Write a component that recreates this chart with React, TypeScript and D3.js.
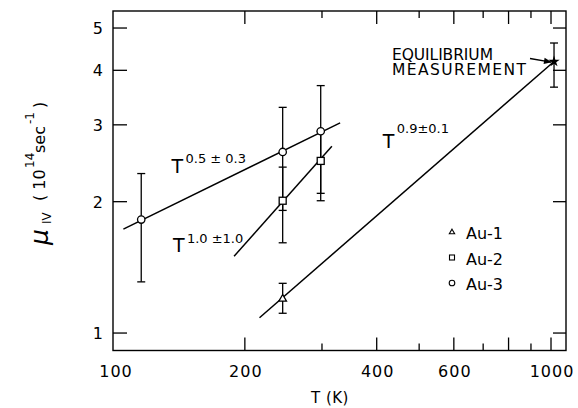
import React from "react";
import * as d3 from "d3";

// ---- data ----
const xTickMajor = [200, 400, 600, 800, 1000];
const xTickMinor = [300, 500, 700, 900];
const xTickLabels = [100, 200, 400, 600, 1000];
const yTicks = [1, 2, 3, 4, 5];

const au1T = [244];
const au1Mu = [1.2];
const au1Hi = [1.3];
const au1Lo = [1.11];

const au2T = [244, 298];
const au2Mu = [2.01, 2.48];
const au2Hi = [2.4, 2.9];
const au2Lo = [1.61, 2.01];

const au3T = [116, 244, 298];
const au3Mu = [1.82, 2.6, 2.9];
const au3Hi = [2.32, 3.29, 3.69];
const au3Lo = [1.31, 1.91, 2.09];

const eqT = [1016];
const eqMu = [4.19];
const eqHi = [4.62];
const eqLo = [3.66];

const fit3T = [105.6, 330];
const fit3Mu = [1.73, 3.03];
const fit2T = [189, 316];
const fit2Mu = [1.5, 2.68];
const fit1T = [216, 1016];
const fit1Mu = [1.084, 4.19];

const legendNames = ["Au-1", "Au-2", "Au-3"];
const powerBase = ["T", "T", "T"];
const powerExp = ["0.5 ± 0.3", "1.0 ±1.0", "0.9±0.1"];
// annotation anchors in data coordinates
const annT = [136, 137, 413];
const annMu = [2.33, 1.534, 2.657];

const xDomain = [100, 1082];
const yDomain = [0.912, 5.47];

const W = 578;
const H = 408;
const FONT = "'DejaVu Sans', 'Liberation Sans', sans-serif";

export default function App() {
  const x = d3.scaleLog().domain(xDomain).range([113, 566]);
  const y = d3.scaleLog().domain(yDomain).range([350.5, 11]);
  const [x0, x1] = x.range();
  const [y0, y1] = y.range();
  const line = d3
    .line<[number, number]>()
    .x((d) => x(d[0]))
    .y((d) => y(d[1]));

  const pairs = (ts: number[], ms: number[]) =>
    ts.map((t, i) => [t, ms[i]] as [number, number]);

  const errBars = (ts: number[], hi: number[], lo: number[], key: string) =>
    ts.map((t, i) => {
      const cx = x(t);
      return (
        <g key={key + i} stroke="#000" strokeWidth={1.3}>
          <line x1={cx} x2={cx} y1={y(hi[i])} y2={y(lo[i])} />
          <line x1={cx - 4} x2={cx + 4} y1={y(hi[i])} y2={y(hi[i])} />
          <line x1={cx - 4} x2={cx + 4} y1={y(lo[i])} y2={y(lo[i])} />
        </g>
      );
    });

  const tri = (cx: number, cy: number, s: number) =>
    `M${cx},${cy - s}L${cx + s * 0.95},${cy + s * 0.65}L${cx - s * 0.95},${cy + s * 0.65}Z`;

  const starPath = d3.symbol().type(d3.symbolStar).size(40)() as string;
  const supDy = [-10, -9, -15];

  return (
    <svg
      width={W}
      height={H}
      style={{ position: "absolute", left: 0, top: 0, background: "#fff" }}
      fontFamily={FONT}
    >
      <rect x={0} y={0} width={W} height={H} fill="#fff" />
      {/* frame */}
      <rect
        x={x0}
        y={y1}
        width={x1 - x0}
        height={y0 - y1}
        fill="none"
        stroke="#000"
        strokeWidth={1.4}
      />
      {/* x ticks */}
      {xTickMajor.map((t) => (
        <g key={"xM" + t} stroke="#000" strokeWidth={1.3}>
          <line x1={x(t)} x2={x(t)} y1={y0} y2={y0 - 13} />
          <line x1={x(t)} x2={x(t)} y1={y1} y2={y1 + 13} />
        </g>
      ))}
      {xTickMinor.map((t) => (
        <g key={"xm" + t} stroke="#000" strokeWidth={1.3}>
          <line x1={x(t)} x2={x(t)} y1={y0} y2={y0 - 7} />
          <line x1={x(t)} x2={x(t)} y1={y1} y2={y1 + 7} />
        </g>
      ))}
      {yTicks.map((t) => (
        <g key={"y" + t} stroke="#000" strokeWidth={1.3}>
          <line x1={x0} x2={x0 + 14} y1={y(t)} y2={y(t)} />
          <line x1={x1} x2={x1 - 13} y1={y(t)} y2={y(t)} />
        </g>
      ))}
      {xTickLabels.map((t) => (
        <text
          key={"xl" + t}
          x={x(t) + (t === 100 ? 3 : 1)}
          y={377}
          fontSize={16}
          textAnchor="middle"
          letterSpacing={1}
        >
          {t}
        </text>
      ))}
      {yTicks.map((t) => (
        <text key={"yl" + t} x={103} y={y(t) + 6} fontSize={16} textAnchor="end">
          {t}
        </text>
      ))}
      <text x={330} y={403} fontSize={15} textAnchor="middle" letterSpacing={0.5}>
        T (K)
      </text>
      {/* y axis label */}
      <g transform="translate(48,245) rotate(-90)">
        <text x={0} y={0} fontSize={25} fontStyle="italic">
          μ
        </text>
        <text x={21} y={3} fontSize={12}>
          IV
        </text>
        <text x={44} y={-3} fontSize={16}>
          ( 10
        </text>
        <text x={77} y={-14} fontSize={12}>
          14
        </text>
        <text x={92} y={-3} fontSize={16}>
          sec
        </text>
        <text x={121} y={-14} fontSize={12}>
          -1
        </text>
        <text x={137} y={-3} fontSize={16}>
          )
        </text>
      </g>

      {/* fit lines */}
      <path d={line(pairs(fit3T, fit3Mu)) as string} stroke="#000" strokeWidth={1.5} fill="none" />
      <path d={line(pairs(fit2T, fit2Mu)) as string} stroke="#000" strokeWidth={1.5} fill="none" />
      <path d={line(pairs(fit1T, fit1Mu)) as string} stroke="#000" strokeWidth={1.5} fill="none" />

      {/* error bars */}
      {errBars(au3T, au3Hi, au3Lo, "e3")}
      {errBars(au2T, au2Hi, au2Lo, "e2")}
      {errBars(au1T, au1Hi, au1Lo, "e1")}
      {errBars(eqT, eqHi, eqLo, "eq")}

      {/* markers */}
      {au2T.map((t, i) => (
        <rect
          key={"s" + i}
          x={x(t) - 3.5}
          y={y(au2Mu[i]) - 3.5}
          width={7}
          height={7}
          fill="#fff"
          stroke="#000"
          strokeWidth={1.3}
        />
      ))}
      {au3T.map((t, i) => (
        <circle
          key={"c" + i}
          cx={x(t)}
          cy={y(au3Mu[i])}
          r={3.7}
          fill="#fff"
          stroke="#000"
          strokeWidth={1.3}
        />
      ))}
      {au1T.map((t, i) => (
        <path key={"t" + i} d={tri(x(t), y(au1Mu[i]), 4)} fill="#fff" stroke="#000" strokeWidth={1.3} />
      ))}
      {eqT.map((t, i) => (
        <path key={"st" + i} d={starPath} transform={`translate(${x(t)},${y(eqMu[i])})`} fill="#000" />
      ))}

      {/* power law labels */}
      {annT.map((t, i) => (
        <g key={"ann" + i}>
          <text x={x(t)} y={y(annMu[i])} fontSize={19}>
            {powerBase[i]}
          </text>
          <text x={x(t) + 14} y={y(annMu[i]) + supDy[i]} fontSize={13}>
            {powerExp[i]}
          </text>
        </g>
      ))}

      {/* equilibrium annotation */}
      <text x={392} y={60} fontSize={15.5} textLength={101} lengthAdjust="spacing">
        EQUILIBRIUM
      </text>
      <text x={392} y={75} fontSize={15.5} textLength={134} lengthAdjust="spacing">
        MEASUREMENT
      </text>
      <defs>
        <marker id="ah" viewBox="0 0 10 10" refX={9} refY={5} markerWidth={7} markerHeight={6} orient="auto">
          <path d="M0,1L10,5L0,9Z" fill="#000" />
        </marker>
      </defs>
      <line x1={530} y1={58.5} x2={x(eqT[0]) - 3} y2={y(eqMu[0]) + 0.5} stroke="#000" strokeWidth={1.3} markerEnd="url(#ah)" />

      {/* legend */}
      {legendNames.map((n, i) => {
        const ly = 232 + i * 25.5;
        return (
          <g key={"lg" + n}>
            {i === 0 && <path d={tri(452, ly, 2.8)} fill="#fff" stroke="#000" strokeWidth={1.1} />}
            {i === 1 && <rect x={449.5} y={ly - 2.5} width={5} height={5} fill="#fff" stroke="#000" strokeWidth={1.1} />}
            {i === 2 && <circle cx={452} cy={ly} r={2.8} fill="#fff" stroke="#000" strokeWidth={1.1} />}
            <text x={466} y={ly + 7} fontSize={16}>
              {n}
            </text>
          </g>
        );
      })}
    </svg>
  );
}
